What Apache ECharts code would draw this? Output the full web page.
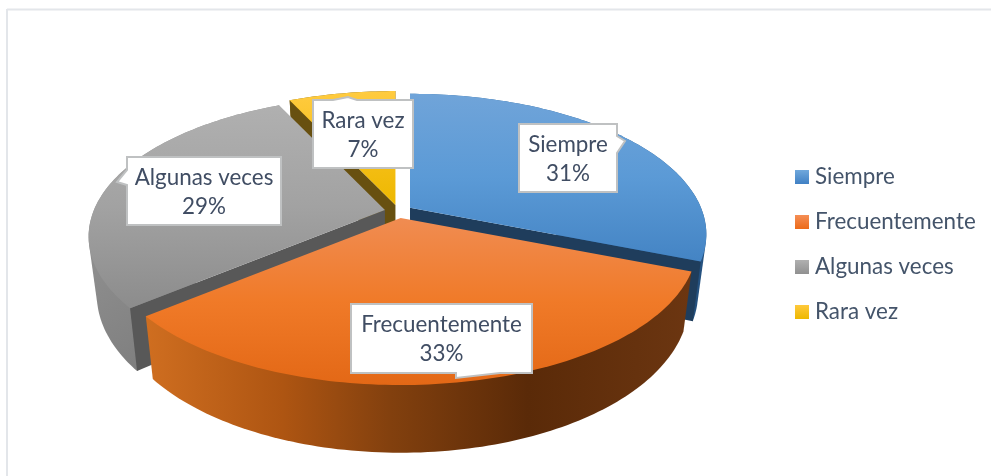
<!DOCTYPE html>
<html>
<head>
<meta charset="utf-8">
<style>html,body{margin:0;padding:0;background:#fff}#c{width:991px;height:476px}</style>
<script src="https://cdn.jsdelivr.net/npm/echarts@6/dist/echarts.min.js"></script>
</head>
<body>
<div id="c"></div>
<script>
const categories = ['Siempre', 'Frecuentemente', 'Algunas veces', 'Rara vez'];
const values = [31, 33, 29, 7];

const chart = echarts.init(document.getElementById('c'), null, {renderer: 'canvas'});
const G = echarts.graphic.LinearGradient;
const FONT = 'Lato, "Open Sans", sans-serif';

// Perspective model of the pie disc
const view = {cx: 398.5, cy: 211.5, ex: 13.9, ey: 6.6, A: 291, B: 135.5, p: 0.1887, A2: 283, B2: 145, d: 56};
const total = values.reduce((a, b) => a + b, 0);
const rad = v => v / total * Math.PI * 2;

const styles = [
  {top: ['#70A4D9', '#5B9AD6', '#4484C4'], cut: '#1F3D5C', wall: ['#2E6CA4', '#244F7C'], swatch: ['#70A8DC', '#4080C4']},
  {top: ['#F08C52', '#F07A28', '#E36816'], cut: '#7A3C10',
    wall: [[0, '#CF6E20'], [0.25, '#AE5512'], [0.45, '#82400E'], [0.7, '#5A2A08'], [1, '#6C3611']], swatch: ['#F58E55', '#EC6A18']},
  {top: ['#B0B0B0', '#A2A2A2', '#8C8C8C'], cut: '#585858', wall: ['#9E9E9E', '#747474'], swatch: ['#B0B0B0', '#909090']},
  {top: ['#FFCB40', '#F7C01C', '#EDB800'], cut: '#685010', wall: ['#8A6A10', '#685010'], swatch: ['#FFC93C', '#EDB800']}
];

function point(theta, bottom) {
  const X = Math.sin(theta), Y = -Math.cos(theta), w = 1 - view.p * Y;
  return bottom ? [view.A2 * X / w, view.d + view.B2 * Y / w] : [view.A * X / w, view.B * Y / w];
}

function hull(pts) {
  const s = pts.slice().sort((a, b) => a[0] - b[0] || a[1] - b[1]);
  const cross = (o, a, b) => (a[0] - o[0]) * (b[1] - o[1]) - (a[1] - o[1]) * (b[0] - o[0]);
  const half = list => {
    const h = [];
    list.forEach(p => {
      while (h.length >= 2 && cross(h[h.length - 2], h[h.length - 1], p) <= 0) h.pop();
      h.push(p);
    });
    h.pop();
    return h;
  };
  return half(s).concat(half(s.slice().reverse()));
}

function makeRender(i) {
  const before = values.slice(0, i).reduce((a, b) => a + b, 0);
  return function (params, api) {
    const t0 = rad(before), t1 = rad(before + api.value(0)), mid = (t0 + t1) / 2;
    const ax = view.cx + view.ex * Math.sin(mid), ay = view.cy - view.ey * Math.cos(mid);
    const at = (t, b) => { const q = point(t, b); return [ax + q[0], ay + q[1]]; };
    const topArc = [], botArc = [];
    const n = Math.ceil((t1 - t0) / 0.02);
    for (let k = 0; k <= n; k++) {
      const t = t0 + (t1 - t0) * k / n;
      topArc.push(at(t, false));
      botArc.push(at(t, true));
    }
    const apexT = [ax, ay], apexB = [ax, ay + view.d];
    const s = styles[i];
    const grad = c => new G(0, 0, 0, 1, c.map((col, j) => ({offset: j / (c.length - 1), color: col})));
    const wallFill = Array.isArray(s.wall[0])
      ? new G(0, 0, 1, 0, s.wall.map(w => ({offset: w[0], color: w[1]})))
      : new G(0, 0, 1, 1, [{offset: 0, color: s.wall[0]}, {offset: 1, color: s.wall[1]}]);
    const poly = (points, fill) => ({type: 'polygon', shape: {points}, style: {fill}, silent: true});
    // A cut face shows only when the slice's own surface lies on the far side of its edge
    const midRim = at(mid, false);
    const cutFaces = [t0, t1].filter(t => {
      const e = at(t, false), ex = e[0] - ax, ey = e[1] - ay;
      const down = ex;
      const inner = ex * (midRim[1] - ay) - ey * (midRim[0] - ax);
      return down * inner < 0 && Math.abs(ex) > 1;
    }).map(t => poly([apexT, at(t, false), at(t, true), apexB], s.cut));
    return {
      type: 'group',
      children: [poly(hull(topArc.concat(botArc)), wallFill)].concat(cutFaces, [poly([apexT].concat(topArc), grad(s.top))])
    };
  };
}

// Data-label callouts: box [x0, y0, x1, y1] and pointer triangle
const callouts = [
  {box: [519, 124, 617, 192], tip: [[617, 136], [625, 141], [617, 153]]},
  {box: [351, 304, 532, 373], tip: [[500, 373], [456, 378], [456, 373]]},
  {box: [127, 157, 281, 225], tip: [[127, 170], [117, 182], [127, 185]]},
  {box: [313, 100, 413, 168], tip: [[357, 100], [348, 97], [333, 100]]}
];

function renderLabel(params, api) {
  const i = params.dataIndex, c = callouts[i], b = c.box;
  const side = c.tip[0][0] === c.tip[2][0] && c.tip[0][0] === b[0] ? 'left'
    : c.tip[0][0] === b[2] ? 'right' : c.tip[0][1] === b[1] ? 'top' : 'bottom';
  const tl = [b[0], b[1]], tr = [b[2], b[1]], br = [b[2], b[3]], bl = [b[0], b[3]];
  const t = c.tip;
  const pts = side === 'top' ? [tl, t[2], t[1], t[0], tr, br, bl]
    : side === 'right' ? [tl, tr, t[0], t[1], t[2], br, bl]
    : side === 'bottom' ? [tl, tr, br, t[0], t[1], t[2], bl]
    : [tl, tr, br, bl, t[2], t[1], t[0]];
  const cx = (b[0] + b[2]) / 2, cy = (b[1] + b[3]) / 2;
  const txt = (text, y) => ({type: 'text', x: cx, y, silent: true, style: {
    text, x: 0, y: 0, fill: '#404D63', font: '22.4px ' + FONT, align: 'center', verticalAlign: 'middle'}});
  return {type: 'group', children: [
    {type: 'polygon', shape: {points: pts}, silent: true, style: {fill: '#fff', stroke: '#BFC1C2', lineWidth: 2}},
    txt(categories[i], cy - 13.5),
    txt(api.value(0) + '%', cy + 15.5)
  ]};
}

const paintOrder = [3, 0, 2, 1];
const series = categories.map((name, i) => ({
  type: 'custom',
  name,
  coordinateSystem: 'none',
  z: 2 + paintOrder.indexOf(i),
  silent: true,
  itemStyle: {color: new G(0, 0, 0, 1, [{offset: 0, color: styles[i].swatch[0]}, {offset: 1, color: styles[i].swatch[1]}])},
  renderItem: makeRender(i),
  data: [[values[i]]]
}));
series.push({
  type: 'custom',
  name: 'labels',
  coordinateSystem: 'none',
  z: 10,
  silent: true,
  renderItem: renderLabel,
  data: values.map(v => [v])
});

chart.setOption({
  animation: false,
  backgroundColor: '#fff',
  legend: {
    data: categories,
    orient: 'vertical',
    left: 795,
    top: 165,
    padding: 0,
    itemWidth: 14,
    itemHeight: 14,
    itemGap: 21,
    icon: 'rect',
    selectedMode: false,
    textStyle: {fontFamily: FONT, fontSize: 22.4, color: '#44546A', lineHeight: 26, height: 24, padding: [0, 0, 0, 1]}
  },
  graphic: [
    {type: 'line', silent: true, shape: {x1: 7, y1: 9.5, x2: 991, y2: 9.5}, style: {stroke: '#E3E6EA', lineWidth: 2}},
    {type: 'line', silent: true, shape: {x1: 7, y1: 9, x2: 7, y2: 476}, style: {stroke: '#E3E6EA', lineWidth: 2}}
  ],
  series
});
</script>
</body>
</html>
